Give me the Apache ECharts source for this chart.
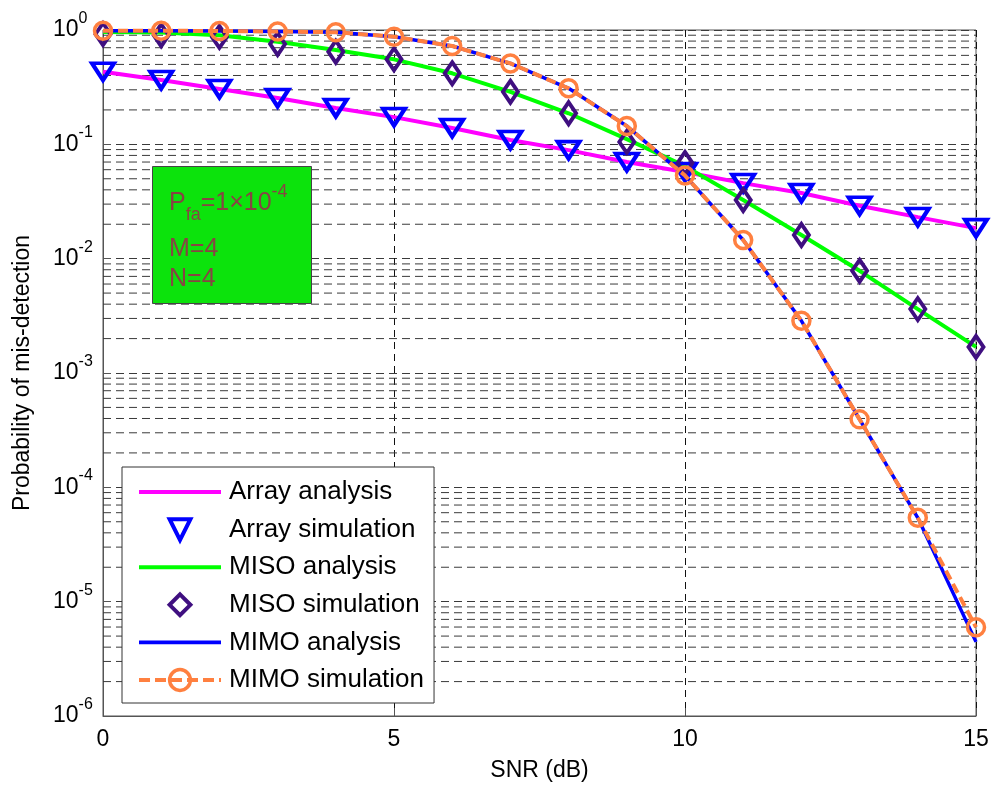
<!DOCTYPE html>
<html>
<head>
<meta charset="utf-8">
<script src="https://cdn.jsdelivr.net/npm/echarts@6/dist/echarts.min.js"></script>
<style>
html, body { margin: 0; padding: 0; background: #fff; }
#chart { width: 992px; height: 787px; }
</style>
</head>
<body>
<div id="chart"></div>
<script>
// SNR sweep (dB)
const snr = [0, 1, 2, 3, 4, 5, 6, 7, 8, 9, 10, 11, 12, 13, 14, 15];

// Probability of mis-detection for each receiver structure
const arrayAnalysis = [0.432, 0.365, 0.305, 0.254, 0.208, 0.173, 0.139, 0.109, 0.089, 0.070, 0.0573, 0.0458, 0.0375, 0.0290, 0.0231, 0.0185];
const arraySimulation = [0.432, 0.365, 0.305, 0.254, 0.208, 0.173, 0.139, 0.109, 0.089, 0.070, 0.0573, 0.0458, 0.0375, 0.0290, 0.0231, 0.0185];
const misoAnalysis = [0.96, 0.95, 0.90, 0.79, 0.668, 0.554, 0.418, 0.288, 0.187, 0.111, 0.0645, 0.0326, 0.0161, 0.00783, 0.00362, 0.00169];
const misoSimulation = [0.92, 0.90, 0.87, 0.755, 0.645, 0.554, 0.418, 0.288, 0.187, 0.105, 0.0686, 0.0326, 0.0161, 0.00783, 0.00362, 0.00169];
const mimoAnalysis = [0.985, 0.985, 0.98, 0.97, 0.955, 0.874, 0.724, 0.51, 0.309, 0.1445, 0.0533, 0.01455, 0.00286, 3.93e-4, 5.41e-5, 4.45e-6];
const mimoSimulation = [0.985, 0.985, 0.98, 0.97, 0.955, 0.874, 0.724, 0.51, 0.309, 0.1445, 0.0533, 0.01455, 0.00286, 3.93e-4, 5.41e-5, 5.98e-6];

// Axis ticks
const xTicks = [0, 5, 10, 15];
const yDecades = [-6, -5, -4, -3, -2, -1, 0];
const minorMantissas = [2, 3, 4, 5, 6, 7, 8, 9];

const FONT = '"Liberation Sans", Arial, Helvetica, sans-serif';
const GRID_COLOR = '#3a3a3a';
const GRID_DASH = [8, 5];
const NOTE_COLOR = '#884444';

const pairs = (ys) => snr.map((x, i) => [x, ys[i]]);

// minor grid levels at 2..9 x 10^k
const minorGrid = [];
yDecades.slice(0, -1).forEach(k => {
  minorMantissas.forEach(m => minorGrid.push([xTicks[0], m * Math.pow(10, k)]));
});

const downTriangle = 'path://M0,0L24,0L12,19Z';

const chart = echarts.init(document.getElementById('chart'), null, { renderer: 'canvas' });

chart.setOption({
  animation: false,
  backgroundColor: '#fff',
  textStyle: { fontFamily: FONT },
  grid: {
    left: 103, right: 16, top: 30, bottom: 71,
    show: true, borderColor: '#555', borderWidth: 1,
    containLabel: false, outerBoundsMode: 'none'
  },
  xAxis: {
    type: 'value',
    min: xTicks[0], max: xTicks[xTicks.length - 1], interval: 5,
    name: 'SNR (dB)', nameLocation: 'middle', nameGap: 43,
    nameTextStyle: { fontSize: 23, color: '#000', fontFamily: FONT },
    axisLine: { show: true, onZero: false, lineStyle: { color: '#555', width: 1 } },
    axisTick: { show: true, inside: true, length: 8, lineStyle: { color: '#555' } },
    axisLabel: { fontSize: 23, color: '#000', margin: 12, fontFamily: FONT },
    splitLine: { show: true, lineStyle: { color: '#111', type: [7, 5], width: 1 } }
  },
  yAxis: {
    type: 'log', logBase: 10,
    min: Math.pow(10, yDecades[0]), max: Math.pow(10, yDecades[yDecades.length - 1]),
    splitNumber: 6,
    name: 'Probability of mis-detection', nameLocation: 'middle', nameGap: 69, nameRotate: 90,
    nameTextStyle: { fontSize: 23, color: '#000', fontFamily: FONT },
    axisLine: { show: true, lineStyle: { color: '#555', width: 1 } },
    axisTick: { show: true, inside: true, length: 8, lineStyle: { color: '#555' } },
    axisLabel: {
      align: 'left', margin: 50,
      formatter: (v) => '{b|10}{e|' + Math.round(Math.log10(v)) + '}',
      rich: {
        b: { fontSize: 23, color: '#000', fontFamily: FONT, lineHeight: 39, verticalAlign: 'middle' },
        e: { fontSize: 16, color: '#000', fontFamily: FONT, lineHeight: 16, verticalAlign: 'top' }
      }
    },
    splitLine: { show: true, lineStyle: { color: GRID_COLOR, type: GRID_DASH, width: 1 } },
    minorTick: { show: false },
    minorSplitLine: { show: false }
  },
  legend: {
    orient: 'vertical',
    left: 122, top: 467,
    padding: [12, 10, 10, 15],
    itemWidth: 82, itemHeight: 26, itemGap: 11.6,
    backgroundColor: '#fff', borderColor: '#333', borderWidth: 1,
    textStyle: { fontSize: 26, color: '#000', fontFamily: FONT, padding: [0, 0, 0, 3] },
    selectedMode: false,
    data: [
      { name: 'Array analysis', icon: 'path://M0,0H80V4H0Z', itemStyle: { color: '#ff00ff', borderWidth: 0 } },
      { name: 'Array simulation', lineStyle: { width: 0, opacity: 0 },
        itemStyle: { color: 'rgba(0,0,0,0)', borderColor: '#0000ff', borderWidth: 4 } },
      { name: 'MISO analysis', icon: 'path://M0,0H80V4H0Z', itemStyle: { color: '#00ff00', borderWidth: 0 } },
      { name: 'MISO simulation', lineStyle: { width: 0, opacity: 0 },
        itemStyle: { color: 'rgba(0,0,0,0)', borderColor: '#3f0f80', borderWidth: 4 } },
      { name: 'MIMO analysis', icon: 'path://M0,0H80V3.5H0Z', itemStyle: { color: '#0000ff', borderWidth: 0 } },
      { name: 'MIMO simulation', lineStyle: { color: '#ff8040', width: 4, type: [11, 5], opacity: 1 },
        itemStyle: { color: 'rgba(0,0,0,0)', borderColor: '#ff8040', borderWidth: 3.5 } }
    ]
  },
  series: [
    {
      // dashed minor grid, drawn through the axis scale
      name: 'minor-grid', type: 'custom', silent: true, z: 1,
      data: minorGrid,
      encode: { x: 0, y: 1 },
      renderItem: (params, api) => {
        const cs = params.coordSys;
        const p = api.coord([api.value(0), api.value(1)]);
        return {
          type: 'line',
          shape: { x1: cs.x, y1: p[1], x2: cs.x + cs.width, y2: p[1] },
          style: { stroke: GRID_COLOR, lineWidth: 1, lineDash: GRID_DASH }
        };
      }
    },
    {
      name: 'Array analysis', type: 'line', data: pairs(arrayAnalysis),
      color: '#ff00ff', symbol: 'none', clip: false, z: 3,
      lineStyle: { color: '#ff00ff', width: 4 }
    },
    {
      name: 'Array simulation', type: 'line', data: pairs(arraySimulation),
      color: '#0000ff', symbol: downTriangle, symbolSize: [22, 17], clip: false, z: 4,
      showAllSymbol: true,
      lineStyle: { width: 0, opacity: 0 },
      itemStyle: { color: 'rgba(0,0,0,0)', borderColor: '#0000ff', borderWidth: 4 }
    },
    {
      name: 'MISO analysis', type: 'line', data: pairs(misoAnalysis),
      color: '#00ff00', symbol: 'none', clip: false, z: 3,
      lineStyle: { color: '#00ff00', width: 4 }
    },
    {
      name: 'MISO simulation', type: 'line', data: pairs(misoSimulation),
      color: '#3f0f80', symbol: 'diamond', symbolSize: [15, 22], clip: false, z: 4,
      showAllSymbol: true,
      lineStyle: { width: 0, opacity: 0 },
      itemStyle: { color: 'rgba(0,0,0,0)', borderColor: '#3f0f80', borderWidth: 4 }
    },
    {
      name: 'MIMO analysis', type: 'line', data: pairs(mimoAnalysis),
      color: '#0000ff', symbol: 'none', clip: false, z: 3,
      lineStyle: { color: '#0000ff', width: 3.5 }
    },
    {
      name: 'MIMO simulation', type: 'line', data: pairs(mimoSimulation),
      color: '#ff8040', symbol: 'circle', symbolSize: 17, clip: false, z: 5,
      showAllSymbol: true,
      lineStyle: { color: '#ff8040', width: 4, type: [10, 5] },
      itemStyle: { color: 'rgba(0,0,0,0)', borderColor: '#ff8040', borderWidth: 3.5 }
    }
  ],
  graphic: [
    {
      type: 'rect', left: 152, top: 166, z: 50,
      shape: { width: 159, height: 137 },
      style: { fill: '#0ce30c', stroke: '#444', lineWidth: 1 }
    },
    {
      type: 'text', left: 169, top: 183, z: 51,
      style: {
        text: '{n|P}{sub|fa}{n|=1×10}{sup|-4}',
        fill: NOTE_COLOR,
        rich: {
          n: { fontSize: 25, fontFamily: FONT, fill: NOTE_COLOR, lineHeight: 41, verticalAlign: 'middle' },
          sub: { fontSize: 18, fontFamily: FONT, fill: NOTE_COLOR, lineHeight: 19, verticalAlign: 'bottom' },
          sup: { fontSize: 18, fontFamily: FONT, fill: NOTE_COLOR, lineHeight: 19, verticalAlign: 'top' }
        }
      }
    },
    {
      type: 'text', left: 169, top: 237, z: 51,
      style: { text: 'M=4', font: '25px ' + FONT, fill: NOTE_COLOR }
    },
    {
      type: 'text', left: 169, top: 267, z: 51,
      style: { text: 'N=4', font: '25px ' + FONT, fill: NOTE_COLOR }
    }
  ]
});
</script>
</body>
</html>
